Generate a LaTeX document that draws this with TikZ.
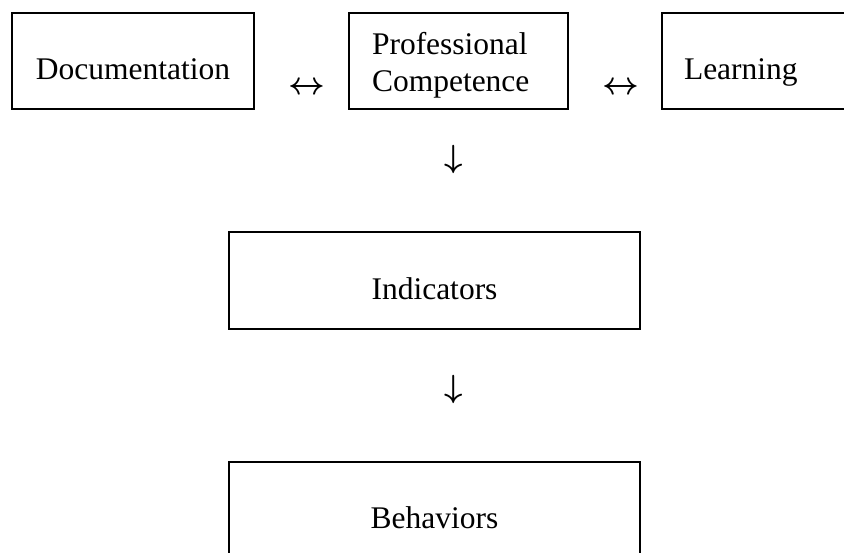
\documentclass[tikz,border=0pt]{standalone}
\usepackage{fontspec}
\setmainfont{Liberation Serif}
\begin{document}
\begin{tikzpicture}[x=1pt,y=1pt,
  box/.style={draw, line width=2.6pt, inner sep=0pt, font=\fontsize{31.5}{37}\selectfont},
  sym/.style={inner sep=0pt, scale=3.2, font=\boldmath}]
\useasboundingbox (0,0) rectangle (844,-553);
\clip (0,0) rectangle (844,-553);
\node[box, text height=38pt, text depth=0pt, minimum width=242pt, minimum height=96pt] (doc) at (133,-61) {Documentation};
\node[box, minimum width=219pt, minimum height=96pt, align=left, text width=173pt, text height=22pt, text depth=34pt] (pc) at (458.5,-61) {Professional\\Competence};
\node[box, text height=38pt, text depth=0pt, minimum width=200pt, minimum height=96pt, text width=156pt, align=left] (learn) at (762,-61) {Learning};
\node[box, text height=39pt, text depth=0pt, minimum width=411pt, minimum height=97pt] (ind) at (434.5,-280.5) {Indicators};
\node[box, text height=35pt, text depth=0pt, minimum width=411pt, minimum height=97pt] (beh) at (434.5,-510.5) {Behaviors};
\node[sym] (a1) at (307,-88) {$\leftrightarrow$};
\node[sym] (a2) at (621,-88) {$\leftrightarrow$};
\node[sym] (d1) at (453.5,-159.5) {$\downarrow$};
\node[sym] (d2) at (453.5,-389.5) {$\downarrow$};
\end{tikzpicture}
\end{document}
